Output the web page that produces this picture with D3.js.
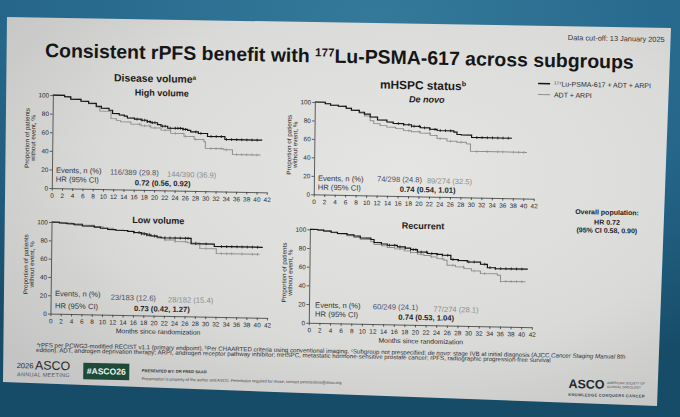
<!DOCTYPE html>
<html><head><meta charset="utf-8">
<script src="https://cdn.jsdelivr.net/npm/d3@7/dist/d3.min.js"></script>
<style>html,body{margin:0;padding:0;background:#1f5c7c;overflow:hidden}svg{display:block}</style>
</head><body>
<svg id="c" width="680" height="417"></svg>
<script>
// ---------- DATA ----------
const xTicks = [0,2,4,6,8,10,12,14,16,18,20,22,24,26,28,30,32,34,36,38,40,42];
const yTicks = [0,20,40,60,80,100];

// Kaplan-Meier steps: [month, % without event]
const hvLu  = [[0,100],[2.3,98.5],[3.5,96],[5.5,94],[7,92],[8.5,89],[9.5,87],[11,85],[11.7,81.5],[13,80],[14,79],[14.6,77],[16,76],[17.3,75],[18.5,73.5],[19.2,72.5],[20.5,70.5],[21.2,69],[22.5,67],[25.5,66],[26.4,65],[27,63.5],[28.5,62],[30.3,59],[33.7,56],[41,56]];
const hvAdt = [[0,100],[2.3,98.5],[3.5,96],[5.5,94],[7,91.5],[8.5,88],[9.2,84],[11.4,76],[12.5,74],[13.3,72.7],[15.3,70.5],[17.3,69],[19.2,67],[21.2,64.7],[23.1,61.5],[25.7,58.6],[27.7,55.5],[29.6,53],[29.9,46],[33.5,45],[35.2,40],[40.7,40]];
const dnLu  = [[0,100],[2,98.5],[3,97],[4.5,96],[6,94],[7,92],[8.5,90],[9.5,88],[10.6,85],[12,82],[13.8,80],[15,78.5],[17,77.5],[18.5,76],[20.2,74.4],[22,73],[23.4,71.8],[26.6,70.4],[27.2,68],[28,67.5],[30,65],[37.7,65]];
const dnAdt = [[0,100],[2,98.5],[3,97],[4.5,96],[6,94],[7,92],[8.5,89],[9.5,86],[10.6,81],[11.3,78],[12.5,76],[13.8,74.4],[15.5,73],[17,71],[18.5,70],[20.2,68.6],[22.1,66.4],[23.4,63],[25.3,60.5],[27.2,59.6],[29,58],[29.8,50],[40.6,50]];
const lvLu  = [[0,100],[1.5,99.3],[3,98.5],[4.4,97.6],[6,96.5],[8.3,95.5],[9.5,94.5],[10.9,93.2],[12.5,92.5],[14.8,91.5],[16,90.5],[17.4,89.2],[18.5,88],[19.3,87],[20.5,86],[21.3,85.3],[27.1,79.5],[31.6,77],[41,77]];
const lvAdt = [[0,100],[2,99.5],[4,99],[6,97.5],[8.3,96],[10,94.5],[12,93],[14,92],[16,90.5],[18,89],[19.3,87.5],[20.5,85],[22,83],[24,81.5],[26.4,80.5],[28.8,74.5],[32,69.3],[40.4,69.3]];
const rcLu  = [[0,100],[1.5,99.5],[2.6,98.6],[4,97.5],[5.2,96.3],[7,95],[8.3,93.8],[9.5,92],[11.5,90.5],[12.1,87.3],[13.5,86],[14.6,84.8],[16.5,83.2],[18,82],[19,80.6],[20.3,78.2],[22.2,76.7],[24,76],[25,75.2],[26.6,70.8],[28,70],[29.7,68.6],[32.2,66.4],[33.5,62.9],[35,62],[41,61.5]];
const rcAdt = [[0,100],[1.5,99.5],[2.6,98.6],[4,97],[5.2,96],[7,94],[8.3,92.3],[9.5,90.5],[11.5,88],[12.1,85.2],[13.5,84],[14.6,82.3],[16,81],[17.8,79],[19,77.5],[20.3,75.8],[21.5,74.5],[22.8,73.2],[24,71.5],[25.3,69.8],[25.9,64.6],[27.5,63],[29.1,61.3],[30.5,59],[32.2,56.4],[35.4,54.9],[36,48.5],[40.7,48.5]];

// censoring times (months)
const hvLuCens  = [16.5,17.5,18,18.5,19,19.5,20,21.5,22,23,24,24.5,25,25.5,26,28,29,31,32,33,34,35,36,37,38,39,40];
const hvAdtCens = [17,18,19,20,22,24,26,28,31,32,33,34,36,37,38,39,40];
const dnLuCens  = [16,17,18,18.5,19,20,21,22,23,24,25,26,31,32,33,34,35,36,37];
const dnAdtCens = [18,20,22,24,26,28,31,33,35,36,38,39,40];
const lvLuCens  = [16,17,17.5,18,18.5,19,20,22,23,24,25,26,26.5,28,30,33,34,35,36,37,38,39,40];
const lvAdtCens = [17,18,19,20,22,24,26,28,30,33,34,35,37,39,40];
const rcLuCens  = [15,16,17,18,19,19.5,20,21,22,23,24,25,26,27,28,30,31,33,34,35,36,37,38,39,40];
const rcAdtCens = [17,19,21,23,25,27,29,31,33,36,37,38,39,40];

const eventsLu  = ["116/389 (29.8)","74/298 (24.8)","23/183 (12.6)","60/249 (24.1)"];
const eventsAdt = ["144/390 (36.9)","89/274 (32.5)","28/182 (15.4)","77/274 (28.1)"];
const hrText    = ["0.72 (0.56, 0.92)","0.74 (0.54, 1.01)","0.73 (0.42, 1.27)","0.74 (0.53, 1.04)"];
const subTitles = ["High volume","De novo","Low volume","Recurrent"];
const seriesNames = ["\u00B9\u2077\u2077Lu-PSMA-617 + ADT + ARPI","ADT + ARPI"];

// ---------- DRAWING ----------
const FF = '"Liberation Sans", Arial, Helvetica, sans-serif';
const svg = d3.select('#c');
const defs = svg.append('defs');

const bg = defs.append('radialGradient').attr('id','bg').attr('cx',0.55).attr('cy',0.05).attr('r',0.9);
bg.append('stop').attr('offset',0).attr('stop-color','#34799a');
bg.append('stop').attr('offset',0.6).attr('stop-color','#25668a');
bg.append('stop').attr('offset',1).attr('stop-color','#174c68');
svg.append('rect').attr('width',680).attr('height',417).attr('fill','url(#bg)');

const sl = defs.append('radialGradient').attr('id','sl').attr('cx',0.6).attr('cy',0.4).attr('r',0.75);
sl.append('stop').attr('offset',0).attr('stop-color','#e5e5e3');
sl.append('stop').attr('offset',0.6).attr('stop-color','#dadad8');
sl.append('stop').attr('offset',1).attr('stop-color','#c3c4c3');
svg.append('polygon').attr('points','7,17 671,28 657,406 3,382').attr('fill','url(#sl)');

// slide content, slightly tilted as in the photo
const g = svg.append('g').attr('transform','matrix(1,0.02,-0.012,1,0,0)').attr('font-family',FF);

function fit(sel, w){
  const L = sel.node().getComputedTextLength();
  const fs = parseFloat(sel.attr('font-size'));
  sel.attr('font-size',(fs*w/L).toFixed(2));
  return sel;
}

// title
const title = g.append('text').attr('x',45.7).attr('y',56).attr('font-size',20).attr('font-weight','bold').attr('fill','#161616');
title.append('tspan').text('Consistent rPFS benefit with ');
title.append('tspan').attr('font-size','0.6em').attr('baseline-shift','super').text('177');
title.append('tspan').text('Lu-PSMA-617 across subgroups');
fit(title,589);

fit(g.append('text').attr('x',665).attr('y',28.7).attr('text-anchor','end').attr('font-size',6.5).attr('fill','#333').text('Data cut-off: 13 January 2025'),97).attr('x',665);

// group headers
function header(x,y,txt,sup,w){
  const t = g.append('text').attr('x',x).attr('y',y).attr('text-anchor','middle').attr('font-size',13).attr('font-weight','bold').attr('fill','#1a1a1a');
  t.append('tspan').text(txt);
  t.append('tspan').attr('font-size','0.6em').attr('baseline-shift','super').text(sup);
  fit(t,w);
}
header(156,79,'Disease volume','a',82);
header(424,81,'mHSPC status','b',86);

const panels = [
  {lu:hvLu, adt:hvAdt, luC:hvLuCens, adtC:hvAdtCens, x0:54, x1:269, yb:187, yt:94,
   sub:[163,92.8], ital:false, ev:[58,171.6], evLu:[112,172.3], evAdt:[169,173.4], hr:[58,180.6], hrV:[137,182.6], xt:null},
  {lu:dnLu, adt:dnAdt, luC:dnLuCens, adtC:dnAdtCens, x0:316, x1:536, yb:188, yt:95.7,
   sub:[428,94], ital:true, ev:[320,174.4], evLu:[379,174], evAdt:[429,174.8], hr:[320,183.4], hrV:[402,183.8], xt:null},
  {lu:lvLu, adt:lvAdt, luC:lvLuCens, adtC:lvAdtCens, x0:54.2, x1:270.8, yb:312.5, yt:221,
   sub:[161,220.3], ital:false, ev:[58.5,294.9], evLu:[114.3,297.6], evAdt:[171.6,298.8], hr:[58.7,307.2], hrV:[137.7,308.3], xt:[162,330.8]},
  {lu:rcLu, adt:rcAdt, luC:rcLuCens, adtC:rcAdtCens, x0:312.6, x1:535.6, yb:316.5, yt:223.1,
   sub:[425.7,220.5], ital:false, ev:[318.7,301.2], evLu:[376.4,301.7], evAdt:[437,303], hr:[318.8,310.2], hrV:[402.1,311.6], xt:[424.8,335.1]}
];

function valueAt(series,t){
  let v = series[0][1];
  for (const d of series){ if (d[0] <= t) v = d[1]; else break; }
  return v;
}

panels.forEach((p,i)=>{
  const x = d3.scaleLinear().domain([0,42]).range([p.x0,p.x1]);
  const y = d3.scaleLinear().domain([0,100]).range([p.yb,p.yt]);
  const gp = g.append('g');

  const ya = gp.append('g').attr('transform',`translate(${p.x0},0)`)
    .call(d3.axisLeft(y).tickValues(yTicks).tickSize(2.5).tickSizeOuter(0).tickPadding(1.2));
  const xa = gp.append('g').attr('transform',`translate(0,${p.yb})`)
    .call(d3.axisBottom(x).tickValues(xTicks).tickSize(2.5).tickSizeOuter(0).tickPadding(2.6));
  [ya,xa].forEach(a=>{
    a.attr('font-family',FF).attr('font-size',6.4);
    a.selectAll('path,line').attr('stroke','#3a3a3a').attr('stroke-width',0.8);
    a.selectAll('text').attr('fill','#2a2a2a');
  });

  const line = d3.line().x(d=>x(d[0])).y(d=>y(d[1])).curve(d3.curveStepAfter);
  gp.append('path').datum(p.adt).attr('d',line).attr('fill','none').attr('stroke','#8e8e8e').attr('stroke-width',1);
  gp.append('path').datum(p.lu).attr('d',line).attr('fill','none').attr('stroke','#151515').attr('stroke-width',1.2);
  gp.selectAll('line.ca').data(p.adtC).join('line').attr('class','ca')
    .attr('x1',d=>x(d)).attr('x2',d=>x(d)).attr('y1',d=>y(valueAt(p.adt,d))-1.4).attr('y2',d=>y(valueAt(p.adt,d))+1.4)
    .attr('stroke','#8e8e8e').attr('stroke-width',0.7);
  gp.selectAll('line.cl').data(p.luC).join('line').attr('class','cl')
    .attr('x1',d=>x(d)).attr('x2',d=>x(d)).attr('y1',d=>y(valueAt(p.lu,d))-1.4).attr('y2',d=>y(valueAt(p.lu,d))+1.4)
    .attr('stroke','#151515').attr('stroke-width',0.8);

  // y-axis title
  const yc = (p.yb+p.yt)/2 - 3;
  gp.append('text').attr('transform',`translate(${p.x0-23},${yc}) rotate(-90)`).attr('text-anchor','middle')
    .attr('font-size',6.3).attr('fill','#2a2a2a').text('Proportion of patients');
  gp.append('text').attr('transform',`translate(${p.x0-17},${yc}) rotate(-90)`).attr('text-anchor','middle')
    .attr('font-size',6.3).attr('fill','#2a2a2a').text('without event, %');

  // subgroup title
  gp.append('text').attr('x',p.sub[0]).attr('y',p.sub[1]).attr('text-anchor','middle')
    .attr('font-size',9).attr('font-weight','bold').attr('font-style',p.ital?'italic':'normal').attr('fill','#1a1a1a').text(subTitles[i]);

  // events / HR
  gp.append('text').attr('x',p.ev[0]).attr('y',p.ev[1]).attr('font-size',7.6).attr('fill','#333').text('Events, n (%)');
  gp.append('text').attr('x',p.evLu[0]).attr('y',p.evLu[1]).attr('font-size',7.6).attr('fill','#4a5168').text(eventsLu[i]);
  gp.append('text').attr('x',p.evAdt[0]).attr('y',p.evAdt[1]).attr('font-size',7.6).attr('fill','#8c8c8c').text(eventsAdt[i]);
  gp.append('text').attr('x',p.hr[0]).attr('y',p.hr[1]).attr('font-size',7.6).attr('fill','#333').text('HR (95% CI)');
  gp.append('text').attr('x',p.hrV[0]).attr('y',p.hrV[1]).attr('font-size',7.6).attr('font-weight','bold').attr('fill','#1e1e1e').text(hrText[i]);

  if (p.xt){
    gp.append('text').attr('x',p.xt[0]).attr('y',p.xt[1]).attr('text-anchor','middle').attr('font-size',6.8).attr('fill','#2a2a2a').text('Months since randomization');
  }
});

// legend
const legColors = ['#151515','#8e8e8e'];
const legY = [72.7,83.7];
seriesNames.forEach((n,i)=>{
  g.append('line').attr('x1',539).attr('x2',551).attr('y1',legY[i]).attr('y2',legY[i]).attr('stroke',legColors[i]).attr('stroke-width',i?1.1:1.6);
  g.append('text').attr('x',555).attr('y',legY[i]+2.5).attr('font-size',7).attr('fill','#2a2a2a').text(n);
});

// overall population
[['Overall population:',202.5],['HR 0.72',212.5],['(95% CI 0.58, 0.90)',220.7]].forEach(d=>{
  g.append('text').attr('x',609.5).attr('y',d[1]).attr('text-anchor','middle').attr('font-size',7).attr('font-weight','bold').attr('fill','#222').text(d[0]);
});

// footnotes
const f1 = g.append('text').attr('x',40.8).attr('y',346.3).attr('font-size',5.5).attr('fill','#333');
f1.append('tspan').attr('font-size','0.65em').attr('baseline-shift','super').text('a');
f1.append('tspan').text('rPFS per PCWG3-modified RECIST v1.1 (primary endpoint). ');
f1.append('tspan').attr('font-size','0.65em').attr('baseline-shift','super').text('b');
f1.append('tspan').text('Per CHAARTED criteria using conventional imaging. ');
f1.append('tspan').attr('font-size','0.65em').attr('baseline-shift','super').text('c');
f1.append('tspan').text('Subgroup not prespecified; ');
f1.append('tspan').attr('font-style','italic').text('de novo');
f1.append('tspan').text(': stage IVB at initial diagnosis (AJCC ');
f1.append('tspan').attr('font-style','italic').text('Cancer Staging Manual');
f1.append('tspan').text(' 8th');
fit(f1,590);
fit(g.append('text').attr('x',40.2).attr('y',351.2).attr('font-size',5.5).attr('fill','#333')
  .text('edition). ADT, androgen deprivation therapy; ARPI, androgen receptor pathway inhibitor; mHSPC, metastatic hormone-sensitive prostate cancer; rPFS, radiographic progression-free survival'),516);

// footer left
g.append('text').attr('x',21.1).attr('y',367.7).attr('font-size',7.5).attr('fill','#2b2b2b').text('2026');
fit(g.append('text').attr('x',39.5).attr('y',368.6).attr('font-size',12).attr('fill','#2b2b2b').text('ASCO'),35);
fit(g.append('text').attr('x',21.5).attr('y',375.7).attr('font-size',5.5).attr('fill','#555').attr('letter-spacing',0.3).text('ANNUAL MEETING'),53);
g.append('rect').attr('x',87.7).attr('y',361).attr('width',46).attr('height',16.6).attr('fill','#1d4a39');
g.append('text').attr('x',110.7).attr('y',372.2).attr('text-anchor','middle').attr('font-size',8.6).attr('font-weight','bold').attr('fill','#f2f2f2').text('#ASCO26');
fit(g.append('text').attr('x',146.2).attr('y',369.2).attr('font-size',4).attr('font-weight','bold').attr('fill','#333').text('PRESENTED BY: DR FRED SAAD'),65);
fit(g.append('text').attr('x',146.2).attr('y',377.2).attr('font-size',4).attr('fill','#444').text('Presentation is property of the author and ASCO. Permission required for reuse; contact permissions@asco.org'),200);

// footer right
fit(g.append('text').attr('x',573).attr('y',376.6).attr('font-size',12.5).attr('font-weight','bold').attr('fill','#1f2a30').text('ASCO'),36);
fit(g.append('text').attr('x',611.5).attr('y',371.7).attr('font-size',3.5).attr('fill','#444').text('AMERICAN SOCIETY OF'),38);
fit(g.append('text').attr('x',611.5).attr('y',375.7).attr('font-size',3.5).attr('fill','#444').text('CLINICAL ONCOLOGY'),34);
fit(g.append('text').attr('x',572.8).attr('y',384.6).attr('font-size',4.5).attr('font-weight','bold').attr('fill','#3a4a55').attr('letter-spacing',0.3).text('KNOWLEDGE CONQUERS CANCER'),76);
</script>
</body></html>
